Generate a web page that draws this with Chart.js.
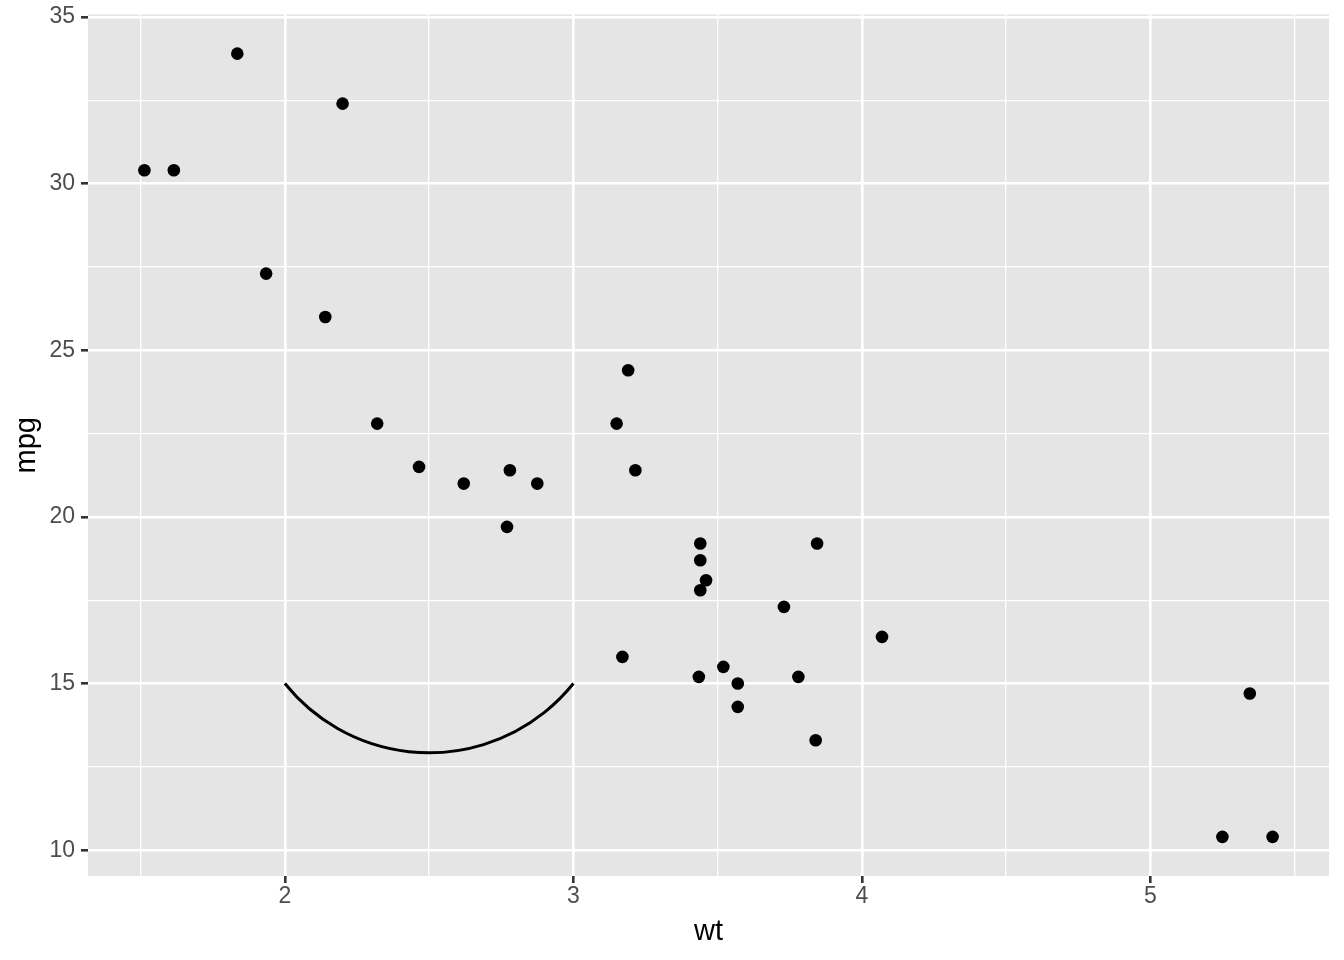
<!DOCTYPE html>
<html>
<head>
<meta charset="utf-8">
<script src="https://cdn.jsdelivr.net/npm/chart.js@4/dist/chart.umd.min.js"></script>
<style>
  body { margin: 0; background: #fff; }
  #wrap { width: 1344px; height: 960px; }
</style>
</head>
<body>
<div id="wrap"><canvas id="grafico"></canvas></div>
<script>
// dados (mtcars)
const wt = [2.620, 2.875, 2.320, 3.215, 3.440, 3.460, 3.570, 3.190, 3.150, 3.440, 3.440,
    4.070, 3.730, 3.780, 5.250, 5.424, 5.345, 2.200, 1.615, 1.835, 2.465, 3.520,
    3.435, 3.840, 3.845, 1.935, 2.140, 1.513, 3.170, 2.770, 3.570, 2.780];
const mpg = [21.0, 21.0, 22.8, 21.4, 18.7, 18.1, 14.3, 24.4, 22.8, 19.2, 17.8,
    16.4, 17.3, 15.2, 10.4, 10.4, 14.7, 32.4, 30.4, 33.9, 21.5, 15.5,
    15.2, 13.3, 19.2, 27.3, 26.0, 30.4, 15.8, 19.7, 15.0, 21.4];

const xMajor = [2, 3, 4, 5];
const xMinor = [1.5, 2.5, 3.5, 4.5, 5.5];
const yMajor = [10, 15, 20, 25, 30, 35];
const yMinor = [12.5, 17.5, 22.5, 27.5, 32.5];

// curva do ponto (2, 15) até (3, 15)
const curveFrom = [2, 15];
const curveTo = [3, 15];

Chart.defaults.font.family = "'Liberation Sans', Arial, sans-serif";

// expansão de 5% como no ggplot
function expand(values) {
    const lo = Math.min(...values), hi = Math.max(...values);
    const pad = (hi - lo) * 0.05;
    return [lo - pad, hi + pad];
}
const xLim = expand(wt.concat([curveFrom[0], curveTo[0]]));
const yLim = expand(mpg.concat([curveFrom[1], curveTo[1]]));

const isMajor = (list, c) => c.tick && list.includes(c.tick.value);

// fundo cinza do painel
const panelBg = {
    id: 'panelBg',
    beforeDraw(chart) {
        const { ctx, chartArea: a } = chart;
        ctx.save();
        ctx.fillStyle = '#E5E5E5';
        ctx.fillRect(a.left, a.top, a.right - a.left, a.bottom - a.top);
        ctx.restore();
    }
};

// arco entre os dois pontos
const curva = {
    id: 'curva',
    afterDatasetsDraw(chart) {
        const { ctx, scales: { x, y } } = chart;
        const x1 = x.getPixelForValue(curveFrom[0]), y1 = y.getPixelForValue(curveFrom[1]);
        const x2 = x.getPixelForValue(curveTo[0]), y2 = y.getPixelForValue(curveTo[1]);
        const corda = Math.hypot(x2 - x1, y2 - y1);
        const flecha = corda * 0.24; // profundidade do arco
        const raio = (corda * corda / 4 + flecha * flecha) / (2 * flecha);
        const cx = (x1 + x2) / 2;
        const cy = (y1 + y2) / 2 + flecha - raio;
        ctx.save();
        ctx.beginPath();
        ctx.arc(cx, cy, raio, Math.atan2(y1 - cy, x1 - cx), Math.atan2(y2 - cy, x2 - cx), true);
        ctx.lineWidth = 3;
        ctx.strokeStyle = '#000';
        ctx.stroke();
        ctx.restore();
    }
};

const grafico = document.getElementById('grafico');
new Chart(grafico, {
    type: 'scatter',
    data: {
        datasets: [{
            data: wt.map((w, i) => ({ x: w, y: mpg[i] })),
            backgroundColor: '#000',
            borderWidth: 0,
            pointRadius: 6.3,
            pointHoverRadius: 6.3
        }]
    },
    options: {
        responsive: true,
        maintainAspectRatio: false,
        animation: false,
        events: [],
        layout: { padding: { top: 14.5, right: 15, left: 0, bottom: 0 } },
        plugins: {
            legend: { display: false },
            tooltip: { enabled: false }
        },
        scales: {
            x: {
                type: 'linear',
                min: xLim[0],
                max: xLim[1],
                afterBuildTicks: s => {
                    s.ticks = xMinor.concat(xMajor).sort((a, b) => a - b).map(v => ({ value: v }));
                },
                afterFit: s => {
                    s.height = 84;
                    s.paddingLeft = 0; // sem folga extra para os rótulos
                    s.paddingRight = 0;
                },
                border: { display: false },
                grid: {
                    color: '#fff',
                    lineWidth: c => isMajor(xMajor, c) ? 2.6 : 1.3,
                    tickColor: c => isMajor(xMajor, c) ? '#333' : 'rgba(0,0,0,0)',
                    tickLength: 7,
                    tickWidth: 2.6
                },
                ticks: {
                    autoSkip: false,
                    maxRotation: 0,
                    padding: 2,
                    color: '#4D4D4D',
                    font: { size: 23, lineHeight: 1 },
                    callback: v => xMajor.includes(v) ? v : ''
                },
                title: {
                    display: true,
                    text: 'wt',
                    color: '#000',
                    font: { size: 29, lineHeight: 1 },
                    padding: { top: 0, bottom: 13.5 }
                }
            },
            y: {
                type: 'linear',
                min: yLim[0],
                max: yLim[1],
                afterBuildTicks: s => {
                    s.ticks = yMinor.concat(yMajor).sort((a, b) => a - b).map(v => ({ value: v }));
                },
                afterFit: s => {
                    s.width = 88;
                    s.paddingTop = 0;
                    s.paddingBottom = 0;
                },
                border: { display: false },
                grid: {
                    color: '#fff',
                    lineWidth: c => isMajor(yMajor, c) ? 2.6 : 1.3,
                    tickColor: c => isMajor(yMajor, c) ? '#333' : 'rgba(0,0,0,0)',
                    tickLength: 7,
                    tickWidth: 2.6
                },
                ticks: {
                    autoSkip: false,
                    padding: 6,
                    color: '#4D4D4D',
                    font: { size: 23, lineHeight: 1 },
                    callback: v => yMajor.includes(v) ? v : ''
                },
                title: {
                    display: true,
                    text: 'mpg',
                    color: '#000',
                    font: { size: 29, lineHeight: 1 },
                    padding: { top: 12.5, bottom: 0 }
                }
            }
        }
    },
    plugins: [panelBg, curva]
});
</script>
</body>
</html>
